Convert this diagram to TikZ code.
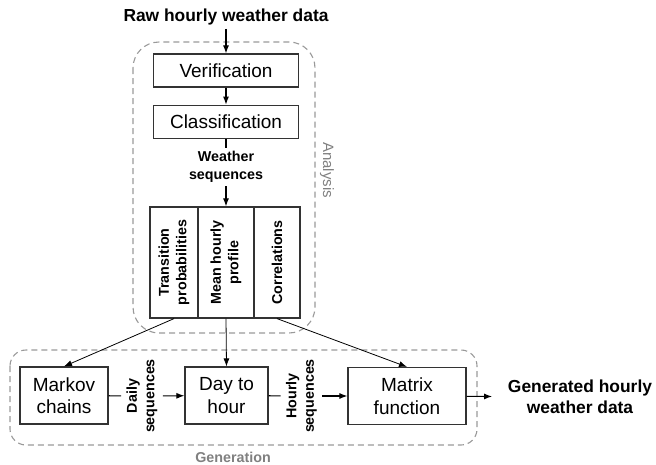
\documentclass[tikz,border=0pt]{standalone}
\usepackage{fontspec}
\setmainfont{Liberation Sans}
\usetikzlibrary{positioning,arrows.meta}

\tikzset{
  stepbox/.style={draw=black!80, line width=1.2pt, minimum width=145pt, minimum height=33pt,
    inner sep=0pt, font=\fontsize{19}{22.5}\selectfont},
  genbox/.style={draw=black!80, line width=1.2pt, minimum height=57pt, align=center,
    inner sep=0pt, font=\fontsize{19}{22.5}\selectfont},
  colbox/.style={draw=black!80, line width=1.2pt, rotate=90, minimum width=111pt, inner sep=2pt,
    align=center, font=\bfseries\fontsize{14.3}{17.5}\selectfont},
  flowlabel/.style={align=center, font=\bfseries\fontsize{14.3}{17.5}\selectfont},
  container/.style={draw=black!40, dash pattern=on 6pt off 4pt, line width=1.1pt},
  grouplabel/.style={text=black!50, font=\fontsize{15}{18}\selectfont},
  arr/.style={-{Latex[length=8pt,width=6pt]}},
}

\begin{document}
\begin{tikzpicture}[x=1pt, y=1pt, line width=1.1pt]
	\useasboundingbox (0,0) rectangle (656,-464);
	% groups
	\draw[container, rounded corners=26pt] (133,-42) rectangle (315,-333);
	\draw[container, rounded corners=16pt] (10,-350) rectangle (477,-445);
	\node[grouplabel, rotate=-90] (analysis) at (327,-170) {Analysis};
	\node[grouplabel, font=\bfseries\fontsize{14.3}{17}\selectfont] (generation) at (233,-457) {Generation};
	% analysis
	\node[font=\bfseries\fontsize{17.4}{21}\selectfont] (raw) at (226,-17) {Raw hourly weather data};
	\node[stepbox] (ver) at (226,-70.5) {Verification};
	\node[stepbox, below=17pt of ver] (cls) {Classification};
	\node[flowlabel] (wseq) at (226,-167) {Weather\\sequences};
	\node[colbox, minimum height=48pt] (trans) at (174,-262.5) {Transition\\probabilities};
	\node[colbox, minimum height=56pt] (mean) at (226,-262.5) {Mean hourly\\profile};
	\node[colbox, minimum height=46pt] (corr) at (277,-262.5) {Correlations};
	% generation
	\node[genbox, minimum width=88pt] (markov) at (64,-395.5) {Markov\\chains};
	\node[genbox, minimum width=83pt] (dth) at (226.5,-395.5) {Day to\\hour};
	\node[genbox, minimum width=118pt] (matrix) at (407,-396) {Matrix\\function};
	\node[flowlabel, rotate=90, inner sep=5pt] (daily) at (142,-396) {Daily\\sequences};
	\node[flowlabel, rotate=90, inner sep=5pt] (hourly) at (301.5,-396) {Hourly\\sequences};
	\node[align=center, font=\bfseries\fontsize{17.4}{21}\selectfont] (gen) at (580,-397) {Generated hourly\\weather data};
	% connectors (rotated columns: west is the bottom side)
	\draw[arr] (raw) -- (ver);
	\draw[arr] (ver) -- (cls);
	\draw (cls) -- (wseq);
	\draw[arr] (wseq) -- (mean);
	\draw[arr, line width=0.8pt] (trans.west) -- (markov.north);
	\draw[arr, line width=0.8pt] (mean.west) -- (dth.north);
	\draw[arr, line width=0.8pt] (corr.west) -- (matrix.north);
	\draw (markov) -- (daily);
	\draw[arr] (daily) -- (dth);
	\draw (dth) -- (hourly);
	\draw[arr] (hourly) -- (matrix);
	\draw[arr, shorten >=12pt] (matrix) -- (gen);
\end{tikzpicture}
\end{document}
